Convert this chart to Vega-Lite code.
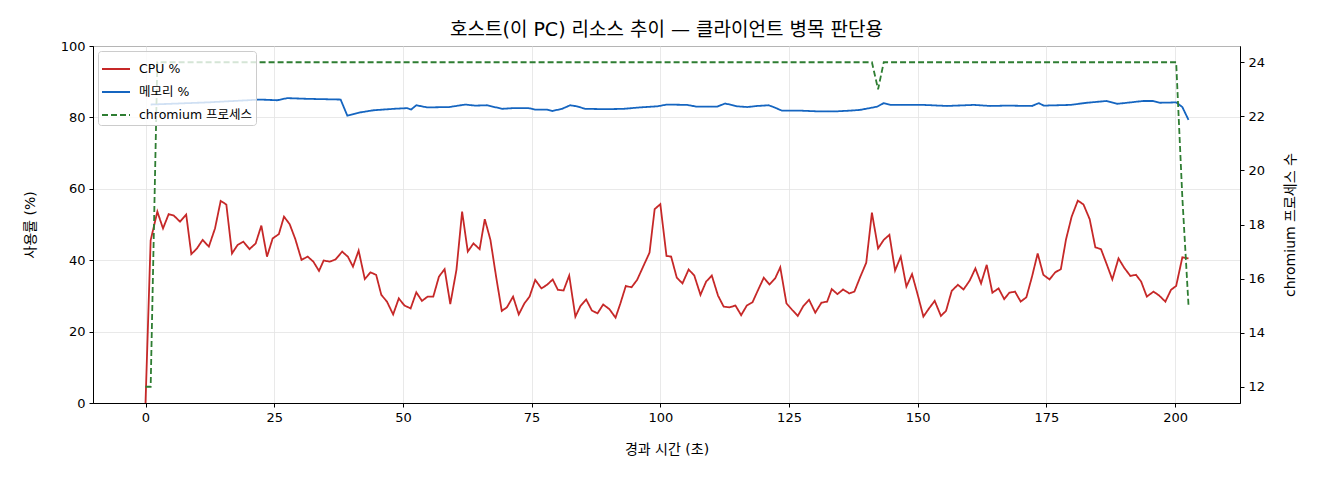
{
  "$schema": "https://vega.github.io/schema/vega-lite/v6.json",
  "width": 1147,
  "height": 357,
  "autosize": {"type": "none"},
  "padding": {"left": 93, "top": 46, "right": 80, "bottom": 77},
  "title": {
    "text": "호스트(이 PC) 리소스 추이 — 클라이언트 병목 판단용",
    "fontSize": 19,
    "fontWeight": "normal",
    "color": "black",
    "anchor": "middle",
    "offset": 0
  },
  "datasets": {
    "usage": [
      {"t": 0, "value": 0, "series": "CPU %"},
      {"t": 1.0, "value": 45.6, "series": "CPU %"},
      {"t": 2.3, "value": 53.6, "series": "CPU %"},
      {"t": 3.4, "value": 48.9, "series": "CPU %"},
      {"t": 4.5, "value": 52.9, "series": "CPU %"},
      {"t": 5.5, "value": 52.5, "series": "CPU %"},
      {"t": 6.7, "value": 50.8, "series": "CPU %"},
      {"t": 7.9, "value": 52.8, "series": "CPU %"},
      {"t": 8.9, "value": 41.7, "series": "CPU %"},
      {"t": 10.0, "value": 43.3, "series": "CPU %"},
      {"t": 11.1, "value": 45.7, "series": "CPU %"},
      {"t": 12.3, "value": 43.8, "series": "CPU %"},
      {"t": 13.5, "value": 48.9, "series": "CPU %"},
      {"t": 14.6, "value": 56.6, "series": "CPU %"},
      {"t": 15.7, "value": 55.6, "series": "CPU %"},
      {"t": 16.8, "value": 41.9, "series": "CPU %"},
      {"t": 17.9, "value": 44.3, "series": "CPU %"},
      {"t": 19.0, "value": 45.2, "series": "CPU %"},
      {"t": 20.2, "value": 43.1, "series": "CPU %"},
      {"t": 21.4, "value": 44.7, "series": "CPU %"},
      {"t": 22.5, "value": 49.7, "series": "CPU %"},
      {"t": 23.6, "value": 41.0, "series": "CPU %"},
      {"t": 24.7, "value": 46.1, "series": "CPU %"},
      {"t": 25.9, "value": 47.3, "series": "CPU %"},
      {"t": 26.9, "value": 52.2, "series": "CPU %"},
      {"t": 28.0, "value": 50.1, "series": "CPU %"},
      {"t": 29.1, "value": 45.9, "series": "CPU %"},
      {"t": 30.3, "value": 40.1, "series": "CPU %"},
      {"t": 31.5, "value": 41.0, "series": "CPU %"},
      {"t": 32.6, "value": 39.6, "series": "CPU %"},
      {"t": 33.7, "value": 37.0, "series": "CPU %"},
      {"t": 34.6, "value": 39.9, "series": "CPU %"},
      {"t": 35.8, "value": 39.6, "series": "CPU %"},
      {"t": 36.9, "value": 40.2, "series": "CPU %"},
      {"t": 38.2, "value": 42.4, "series": "CPU %"},
      {"t": 39.3, "value": 41.0, "series": "CPU %"},
      {"t": 40.3, "value": 38.2, "series": "CPU %"},
      {"t": 41.4, "value": 42.7, "series": "CPU %"},
      {"t": 42.6, "value": 34.7, "series": "CPU %"},
      {"t": 43.7, "value": 36.6, "series": "CPU %"},
      {"t": 44.8, "value": 35.9, "series": "CPU %"},
      {"t": 45.8, "value": 30.3, "series": "CPU %"},
      {"t": 46.9, "value": 28.4, "series": "CPU %"},
      {"t": 48.1, "value": 24.8, "series": "CPU %"},
      {"t": 49.2, "value": 29.3, "series": "CPU %"},
      {"t": 50.3, "value": 27.3, "series": "CPU %"},
      {"t": 51.5, "value": 26.5, "series": "CPU %"},
      {"t": 52.6, "value": 31.0, "series": "CPU %"},
      {"t": 53.7, "value": 28.6, "series": "CPU %"},
      {"t": 54.8, "value": 29.8, "series": "CPU %"},
      {"t": 55.9, "value": 29.8, "series": "CPU %"},
      {"t": 57.0, "value": 35.4, "series": "CPU %"},
      {"t": 58.1, "value": 37.5, "series": "CPU %"},
      {"t": 59.2, "value": 27.7, "series": "CPU %"},
      {"t": 60.4, "value": 37.3, "series": "CPU %"},
      {"t": 61.5, "value": 53.6, "series": "CPU %"},
      {"t": 62.6, "value": 42.4, "series": "CPU %"},
      {"t": 63.7, "value": 44.7, "series": "CPU %"},
      {"t": 64.9, "value": 43.1, "series": "CPU %"},
      {"t": 65.9, "value": 51.5, "series": "CPU %"},
      {"t": 67.0, "value": 45.7, "series": "CPU %"},
      {"t": 68.1, "value": 35.4, "series": "CPU %"},
      {"t": 69.2, "value": 25.8, "series": "CPU %"},
      {"t": 70.2, "value": 26.8, "series": "CPU %"},
      {"t": 71.4, "value": 29.8, "series": "CPU %"},
      {"t": 72.5, "value": 24.8, "series": "CPU %"},
      {"t": 73.6, "value": 27.9, "series": "CPU %"},
      {"t": 74.6, "value": 29.8, "series": "CPU %"},
      {"t": 75.7, "value": 34.5, "series": "CPU %"},
      {"t": 76.9, "value": 32.1, "series": "CPU %"},
      {"t": 78.0, "value": 33.1, "series": "CPU %"},
      {"t": 79.1, "value": 34.6, "series": "CPU %"},
      {"t": 80.1, "value": 31.7, "series": "CPU %"},
      {"t": 81.2, "value": 31.5, "series": "CPU %"},
      {"t": 82.3, "value": 35.7, "series": "CPU %"},
      {"t": 83.5, "value": 24.2, "series": "CPU %"},
      {"t": 84.5, "value": 27.2, "series": "CPU %"},
      {"t": 85.6, "value": 29.0, "series": "CPU %"},
      {"t": 86.7, "value": 25.9, "series": "CPU %"},
      {"t": 87.8, "value": 25.1, "series": "CPU %"},
      {"t": 88.9, "value": 27.6, "series": "CPU %"},
      {"t": 90.1, "value": 26.3, "series": "CPU %"},
      {"t": 91.3, "value": 23.9, "series": "CPU %"},
      {"t": 92.2, "value": 27.7, "series": "CPU %"},
      {"t": 93.3, "value": 32.8, "series": "CPU %"},
      {"t": 94.4, "value": 32.4, "series": "CPU %"},
      {"t": 95.5, "value": 34.5, "series": "CPU %"},
      {"t": 96.6, "value": 38.0, "series": "CPU %"},
      {"t": 97.9, "value": 42.1, "series": "CPU %"},
      {"t": 98.9, "value": 54.3, "series": "CPU %"},
      {"t": 100.0, "value": 55.7, "series": "CPU %"},
      {"t": 101.2, "value": 41.2, "series": "CPU %"},
      {"t": 102.1, "value": 41.0, "series": "CPU %"},
      {"t": 103.2, "value": 35.1, "series": "CPU %"},
      {"t": 104.3, "value": 33.5, "series": "CPU %"},
      {"t": 105.5, "value": 37.4, "series": "CPU %"},
      {"t": 106.6, "value": 35.7, "series": "CPU %"},
      {"t": 107.8, "value": 30.3, "series": "CPU %"},
      {"t": 108.9, "value": 34.0, "series": "CPU %"},
      {"t": 110.0, "value": 35.7, "series": "CPU %"},
      {"t": 111.2, "value": 30.1, "series": "CPU %"},
      {"t": 112.3, "value": 27.0, "series": "CPU %"},
      {"t": 113.4, "value": 26.8, "series": "CPU %"},
      {"t": 114.6, "value": 27.3, "series": "CPU %"},
      {"t": 115.7, "value": 24.6, "series": "CPU %"},
      {"t": 116.8, "value": 27.3, "series": "CPU %"},
      {"t": 117.9, "value": 28.2, "series": "CPU %"},
      {"t": 119.0, "value": 31.7, "series": "CPU %"},
      {"t": 120.1, "value": 35.1, "series": "CPU %"},
      {"t": 121.2, "value": 33.2, "series": "CPU %"},
      {"t": 122.3, "value": 34.9, "series": "CPU %"},
      {"t": 123.3, "value": 38.0, "series": "CPU %"},
      {"t": 124.5, "value": 27.9, "series": "CPU %"},
      {"t": 125.6, "value": 26.1, "series": "CPU %"},
      {"t": 126.7, "value": 24.4, "series": "CPU %"},
      {"t": 127.8, "value": 27.2, "series": "CPU %"},
      {"t": 128.9, "value": 28.9, "series": "CPU %"},
      {"t": 130.1, "value": 25.3, "series": "CPU %"},
      {"t": 131.3, "value": 28.1, "series": "CPU %"},
      {"t": 132.4, "value": 28.4, "series": "CPU %"},
      {"t": 133.3, "value": 31.9, "series": "CPU %"},
      {"t": 134.4, "value": 30.5, "series": "CPU %"},
      {"t": 135.5, "value": 31.8, "series": "CPU %"},
      {"t": 136.7, "value": 30.7, "series": "CPU %"},
      {"t": 137.7, "value": 31.2, "series": "CPU %"},
      {"t": 138.8, "value": 35.2, "series": "CPU %"},
      {"t": 140.0, "value": 39.3, "series": "CPU %"},
      {"t": 141.1, "value": 53.3, "series": "CPU %"},
      {"t": 142.3, "value": 43.3, "series": "CPU %"},
      {"t": 143.4, "value": 45.7, "series": "CPU %"},
      {"t": 144.5, "value": 47.1, "series": "CPU %"},
      {"t": 145.6, "value": 37.1, "series": "CPU %"},
      {"t": 146.7, "value": 41.0, "series": "CPU %"},
      {"t": 147.8, "value": 32.6, "series": "CPU %"},
      {"t": 148.9, "value": 36.1, "series": "CPU %"},
      {"t": 150.0, "value": 30.3, "series": "CPU %"},
      {"t": 151.1, "value": 24.2, "series": "CPU %"},
      {"t": 152.2, "value": 26.5, "series": "CPU %"},
      {"t": 153.3, "value": 28.6, "series": "CPU %"},
      {"t": 154.5, "value": 24.4, "series": "CPU %"},
      {"t": 155.5, "value": 25.8, "series": "CPU %"},
      {"t": 156.6, "value": 31.4, "series": "CPU %"},
      {"t": 157.8, "value": 33.1, "series": "CPU %"},
      {"t": 158.9, "value": 31.8, "series": "CPU %"},
      {"t": 160.1, "value": 34.3, "series": "CPU %"},
      {"t": 161.2, "value": 37.7, "series": "CPU %"},
      {"t": 162.3, "value": 33.5, "series": "CPU %"},
      {"t": 163.4, "value": 38.7, "series": "CPU %"},
      {"t": 164.5, "value": 30.9, "series": "CPU %"},
      {"t": 165.7, "value": 32.1, "series": "CPU %"},
      {"t": 166.8, "value": 29.1, "series": "CPU %"},
      {"t": 167.8, "value": 30.9, "series": "CPU %"},
      {"t": 168.9, "value": 31.2, "series": "CPU %"},
      {"t": 170.0, "value": 28.4, "series": "CPU %"},
      {"t": 171.1, "value": 29.6, "series": "CPU %"},
      {"t": 172.2, "value": 35.4, "series": "CPU %"},
      {"t": 173.3, "value": 41.9, "series": "CPU %"},
      {"t": 174.4, "value": 35.9, "series": "CPU %"},
      {"t": 175.6, "value": 34.6, "series": "CPU %"},
      {"t": 176.7, "value": 36.6, "series": "CPU %"},
      {"t": 177.8, "value": 37.5, "series": "CPU %"},
      {"t": 178.8, "value": 45.8, "series": "CPU %"},
      {"t": 179.9, "value": 52.2, "series": "CPU %"},
      {"t": 181.1, "value": 56.7, "series": "CPU %"},
      {"t": 182.2, "value": 55.6, "series": "CPU %"},
      {"t": 183.4, "value": 51.5, "series": "CPU %"},
      {"t": 184.5, "value": 43.6, "series": "CPU %"},
      {"t": 185.6, "value": 43.1, "series": "CPU %"},
      {"t": 186.7, "value": 38.9, "series": "CPU %"},
      {"t": 187.8, "value": 34.6, "series": "CPU %"},
      {"t": 189.0, "value": 40.5, "series": "CPU %"},
      {"t": 190.1, "value": 37.9, "series": "CPU %"},
      {"t": 191.3, "value": 35.6, "series": "CPU %"},
      {"t": 192.4, "value": 35.9, "series": "CPU %"},
      {"t": 193.4, "value": 34.0, "series": "CPU %"},
      {"t": 194.5, "value": 29.8, "series": "CPU %"},
      {"t": 195.8, "value": 31.2, "series": "CPU %"},
      {"t": 196.9, "value": 30.1, "series": "CPU %"},
      {"t": 198.1, "value": 28.4, "series": "CPU %"},
      {"t": 199.2, "value": 31.7, "series": "CPU %"},
      {"t": 200.2, "value": 32.8, "series": "CPU %"},
      {"t": 201.4, "value": 40.8, "series": "CPU %"},
      {"t": 202.6, "value": 40.5, "series": "CPU %"},
      {"t": 1.0, "value": 83.6, "series": "메모리 %"},
      {"t": 12.0, "value": 84.2, "series": "메모리 %"},
      {"t": 22.3, "value": 85.0, "series": "메모리 %"},
      {"t": 25.6, "value": 84.8, "series": "메모리 %"},
      {"t": 27.5, "value": 85.4, "series": "메모리 %"},
      {"t": 31.4, "value": 85.2, "series": "메모리 %"},
      {"t": 37.9, "value": 85.0, "series": "메모리 %"},
      {"t": 39.2, "value": 80.5, "series": "메모리 %"},
      {"t": 41.7, "value": 81.4, "series": "메모리 %"},
      {"t": 44.3, "value": 82.0, "series": "메모리 %"},
      {"t": 48.2, "value": 82.4, "series": "메모리 %"},
      {"t": 50.8, "value": 82.6, "series": "메모리 %"},
      {"t": 51.6, "value": 82.2, "series": "메모리 %"},
      {"t": 52.6, "value": 83.4, "series": "메모리 %"},
      {"t": 54.7, "value": 82.8, "series": "메모리 %"},
      {"t": 59.0, "value": 82.9, "series": "메모리 %"},
      {"t": 62.1, "value": 83.6, "series": "메모리 %"},
      {"t": 64.0, "value": 83.3, "series": "메모리 %"},
      {"t": 66.3, "value": 83.4, "series": "메모리 %"},
      {"t": 69.3, "value": 82.4, "series": "메모리 %"},
      {"t": 71.5, "value": 82.6, "series": "메모리 %"},
      {"t": 74.4, "value": 82.6, "series": "메모리 %"},
      {"t": 75.7, "value": 82.2, "series": "메모리 %"},
      {"t": 78.0, "value": 82.2, "series": "메모리 %"},
      {"t": 79.0, "value": 81.8, "series": "메모리 %"},
      {"t": 80.9, "value": 82.4, "series": "메모리 %"},
      {"t": 82.5, "value": 83.4, "series": "메모리 %"},
      {"t": 83.8, "value": 83.1, "series": "메모리 %"},
      {"t": 85.4, "value": 82.4, "series": "메모리 %"},
      {"t": 89.5, "value": 82.3, "series": "메모리 %"},
      {"t": 92.9, "value": 82.4, "series": "메모리 %"},
      {"t": 96.0, "value": 82.8, "series": "메모리 %"},
      {"t": 99.4, "value": 83.1, "series": "메모리 %"},
      {"t": 101.3, "value": 83.6, "series": "메모리 %"},
      {"t": 105.2, "value": 83.5, "series": "메모리 %"},
      {"t": 107.1, "value": 83.0, "series": "메모리 %"},
      {"t": 111.0, "value": 83.0, "series": "메모리 %"},
      {"t": 112.6, "value": 83.9, "series": "메모리 %"},
      {"t": 114.9, "value": 83.1, "series": "메모리 %"},
      {"t": 116.9, "value": 82.9, "series": "메모리 %"},
      {"t": 118.8, "value": 83.2, "series": "메모리 %"},
      {"t": 121.0, "value": 83.4, "series": "메모리 %"},
      {"t": 122.0, "value": 82.9, "series": "메모리 %"},
      {"t": 123.6, "value": 81.9, "series": "메모리 %"},
      {"t": 127.1, "value": 81.9, "series": "메모리 %"},
      {"t": 130.4, "value": 81.7, "series": "메모리 %"},
      {"t": 134.3, "value": 81.7, "series": "메모리 %"},
      {"t": 136.9, "value": 81.9, "series": "메모리 %"},
      {"t": 138.8, "value": 82.1, "series": "메모리 %"},
      {"t": 142.1, "value": 83.0, "series": "메모리 %"},
      {"t": 143.4, "value": 84.0, "series": "메모리 %"},
      {"t": 144.7, "value": 83.5, "series": "메모리 %"},
      {"t": 151.1, "value": 83.5, "series": "메모리 %"},
      {"t": 155.7, "value": 83.2, "series": "메모리 %"},
      {"t": 160.9, "value": 83.5, "series": "메모리 %"},
      {"t": 164.1, "value": 83.2, "series": "메모리 %"},
      {"t": 167.4, "value": 83.3, "series": "메모리 %"},
      {"t": 172.2, "value": 83.2, "series": "메모리 %"},
      {"t": 173.5, "value": 84.0, "series": "메모리 %"},
      {"t": 174.5, "value": 83.3, "series": "메모리 %"},
      {"t": 179.6, "value": 83.5, "series": "메모리 %"},
      {"t": 182.9, "value": 84.1, "series": "메모리 %"},
      {"t": 186.7, "value": 84.6, "series": "메모리 %"},
      {"t": 188.7, "value": 83.8, "series": "메모리 %"},
      {"t": 191.3, "value": 84.2, "series": "메모리 %"},
      {"t": 193.8, "value": 84.6, "series": "메모리 %"},
      {"t": 195.7, "value": 84.6, "series": "메모리 %"},
      {"t": 197.1, "value": 84.1, "series": "메모리 %"},
      {"t": 200.2, "value": 84.2, "series": "메모리 %"},
      {"t": 201.4, "value": 82.9, "series": "메모리 %"},
      {"t": 202.6, "value": 79.3, "series": "메모리 %"}
    ],
    "procs": [
      {"t": 0, "count": 12, "series": "chromium 프로세스"},
      {"t": 1.0, "count": 12, "series": "chromium 프로세스"},
      {"t": 2.3, "count": 24, "series": "chromium 프로세스"},
      {"t": 141.1, "count": 24, "series": "chromium 프로세스"},
      {"t": 142.3, "count": 23, "series": "chromium 프로세스"},
      {"t": 143.4, "count": 24, "series": "chromium 프로세스"},
      {"t": 200.2, "count": 24, "series": "chromium 프로세스"},
      {"t": 201.4, "count": 19, "series": "chromium 프로세스"},
      {"t": 202.6, "count": 15, "series": "chromium 프로세스"}
    ]
  },
  "layer": [
    {
      "data": {"name": "usage"},
      "mark": {"type": "line", "strokeWidth": 1.8, "clip": true},
      "encoding": {
        "x": {
          "field": "t",
          "type": "quantitative",
          "scale": {"domain": [-10.2, 212.6], "nice": false, "zero": false},
          "axis": {"values": [0, 25, 50, 75, 100, 125, 150, 175, 200], "title": "경과 시간 (초)"}
        },
        "y": {
          "field": "value",
          "type": "quantitative",
          "scale": {"domain": [0, 100], "nice": false},
          "axis": {"values": [0, 20, 40, 60, 80, 100], "title": "사용률 (%)", "titlePadding": 23}
        },
        "color": {
          "field": "series",
          "type": "nominal",
          "scale": {
            "domain": ["CPU %", "메모리 %", "chromium 프로세스"],
            "range": ["#c62828", "#1565c0", "#2e7d32"]
          },
          "legend": {"title": null}
        },
        "strokeDash": {
          "field": "series",
          "type": "nominal",
          "scale": {
            "domain": ["CPU %", "메모리 %", "chromium 프로세스"],
            "range": [[1, 0], [1, 0], [6, 3]]
          },
          "legend": {"title": null}
        }
      }
    },
    {
      "data": {"name": "procs"},
      "mark": {"type": "line", "strokeWidth": 1.8, "clip": true},
      "encoding": {
        "x": {"field": "t", "type": "quantitative"},
        "y": {
          "field": "count",
          "type": "quantitative",
          "scale": {"domain": [11.4, 24.6], "nice": false, "zero": false},
          "axis": {
            "orient": "right",
            "values": [12, 14, 16, 18, 20, 22, 24],
            "grid": false,
            "title": "chromium 프로세스 수",
            "titleAngle": 270,
            "titleBaseline": "bottom",
            "titlePadding": 33
          }
        },
        "color": {"field": "series", "type": "nominal", "legend": {"title": null}},
        "strokeDash": {"field": "series", "type": "nominal", "legend": {"title": null}}
      }
    }
  ],
  "resolve": {"scale": {"y": "independent"}},
  "config": {
    "font": "DejaVu Sans, Noto Sans CJK KR",
    "view": {"stroke": "black", "strokeWidth": 1},
    "axis": {
      "domainColor": "black",
      "tickColor": "black",
      "tickSize": 4,
      "labelColor": "black",
      "labelFontSize": 13,
      "labelPadding": 4,
      "titleColor": "black",
      "titleFontSize": 14,
      "titleFontWeight": "normal",
      "gridColor": "#e3e3e3",
      "gridWidth": 0.8
    },
    "axisX": {"titlePadding": 18},
    "legend": {
      "orient": "top-left",
      "offset": 5,
      "fillColor": "rgba(255,255,255,0.8)",
      "strokeColor": "#cccccc",
      "cornerRadius": 3,
      "padding": 3,
      "symbolType": "stroke",
      "symbolSize": 784,
      "symbolStrokeWidth": 1.8,
      "labelFontSize": 12.5,
      "labelColor": "black",
      "labelOffset": 8,
      "rowPadding": 1
    }
  }
}
